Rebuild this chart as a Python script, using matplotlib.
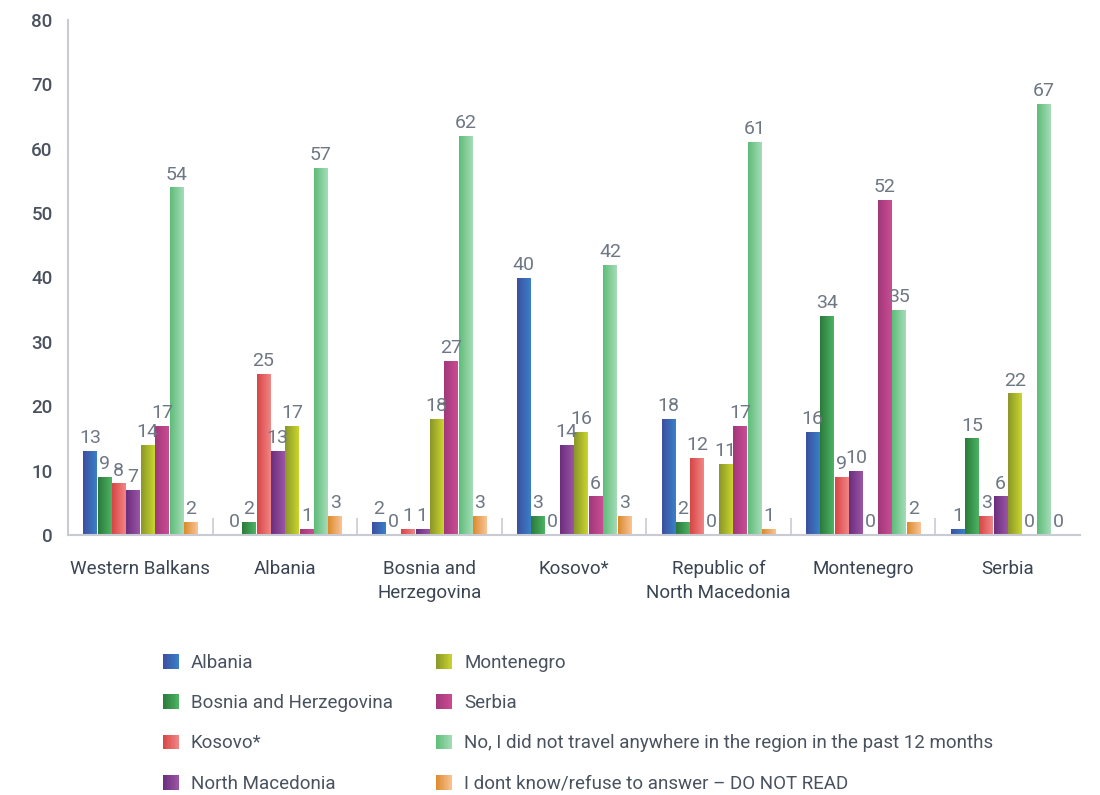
import numpy as np
import matplotlib
matplotlib.use("Agg")
import matplotlib.pyplot as plt
from matplotlib.colors import LinearSegmentedColormap
from matplotlib.patches import Patch, Rectangle
from matplotlib.legend_handler import HandlerBase

plt.rcParams['font.family'] = ['Roboto', 'DejaVu Sans']

categories = ["Western Balkans", "Albania", "Bosnia and\nHerzegovina", "Kosovo*",
              "Republic of\nNorth Macedonia", "Montenegro", "Serbia"]
series_names = ["Albania", "Bosnia and Herzegovina", "Kosovo*", "North Macedonia",
                "Montenegro", "Serbia",
                "No, I did not travel anywhere in the region in the past 12 months",
                "I dont know/refuse to answer – DO NOT READ"]
albania = [13, 0, 2, 40, 18, 16, 1]
bosnia = [9, 2, 0, 3, 2, 34, 15]
kosovo = [8, 25, 1, 0, 12, 9, 3]
north_macedonia = [7, 13, 1, 14, 0, 10, 6]
montenegro = [14, 17, 18, 16, 11, 0, 22]
serbia = [17, 1, 27, 6, 17, 52, 0]
no_travel = [54, 57, 62, 42, 61, 35, 67]
dont_know = [2, 3, 3, 3, 1, 2, 0]
series_values = [albania, bosnia, kosovo, north_macedonia, montenegro, serbia, no_travel, dont_know]
y_ticks = [0, 10, 20, 30, 40, 50, 60, 70, 80]

grad_colors = [("#3d4f9f", "#3a80c8"), ("#2b7a3a", "#4cb464"), ("#d84545", "#f28585"),
               ("#6a2e7c", "#9c55a6"), ("#8a962a", "#cad62c"), ("#a0387a", "#cc4c94"),
               ("#5dbd78", "#a6dcb9"), ("#dc8a2c", "#f9c496")]


class GradientHandler(HandlerBase):
    def __init__(self, cmap):
        super().__init__()
        self.cmap = cmap

    def create_artists(self, legend, orig_handle, xdescent, ydescent, width, height, fontsize, trans):
        k = 12
        arts = []
        for j in range(k):
            r = Rectangle((-xdescent + width * j / k, -ydescent), width / k + 0.3, height,
                          facecolor=self.cmap((j + 0.5) / k), edgecolor='none', transform=trans)
            arts.append(r)
        return arts


fig = plt.figure(figsize=(11, 7.95), dpi=100)
ax = fig.add_axes([68/1100, 1-535/795, (1080-68)/1100, (535-20)/795])

n = len(series_values)
slot = 0.0995
width = 0.093
x = np.arange(len(categories))
grad = np.linspace(0, 1, 64).reshape(1, -1)
cmaps = []
for i, (vals, (c0, c1)) in enumerate(zip(series_values, grad_colors)):
    offs = (i - (n - 1) / 2) * slot
    bars = ax.bar(x + offs, vals, width, color='none', edgecolor='none', zorder=2)
    cmap = LinearSegmentedColormap.from_list(f"g{i}", [c0, c1])
    cmaps.append(cmap)
    for b, v in zip(bars, vals):
        bx, by = b.get_x(), b.get_y()
        bw, bh = b.get_width(), b.get_height()
        if bh > 0:
            im = ax.imshow(grad, cmap=cmap, extent=[bx, bx + bw, by, by + bh],
                           aspect='auto', zorder=2, interpolation='bilinear')
            im.set_clip_path(b)
        ax.text(bx + bw / 2, v + 0.6, str(v), ha='center', va='bottom',
                fontsize=14, color='#6e7784', fontweight='normal', zorder=3)

ax.set_xlim(-0.5, len(categories) - 0.5)
ax.set_ylim(0, 80)
ax.set_yticks(y_ticks)
ax.set_yticklabels([str(t) for t in y_ticks], fontsize=13.5, color='#4a5260', fontweight='medium')
ax.set_xticks(x)
ax.set_xticklabels(categories, fontsize=13.5, color='#3a4452', linespacing=1.4)
ax.tick_params(axis='x', length=0, pad=18)
ax.tick_params(axis='y', length=0, pad=11)
ax.set_xticks(np.arange(0.5, len(categories) - 0.5, 1), minor=True)
ax.tick_params(axis='x', which='minor', direction='in', length=12, color='#c8ccd2', width=1.2)
for s in ['top', 'right']:
    ax.spines[s].set_visible(False)
for s in ['left', 'bottom']:
    ax.spines[s].set_color('#c8ccd2')
    ax.spines[s].set_linewidth(1.5)

handles = [Patch(facecolor=c0, edgecolor='none') for c0, c1 in grad_colors]
handler_map = {h: GradientHandler(cm) for h, cm in zip(handles, cmaps)}
leg = fig.legend(handles, series_names, ncol=2, loc='upper left',
                 bbox_to_anchor=(146/1100, 1-637/795), frameon=False,
                 fontsize=13.5, handlelength=0.85, handleheight=0.85,
                 handletextpad=0.65, columnspacing=2.3, labelspacing=1.19,
                 handler_map=handler_map)
for t in leg.get_texts():
    t.set_color('#4a5260')

fig.savefig("out.png", dpi=100)
